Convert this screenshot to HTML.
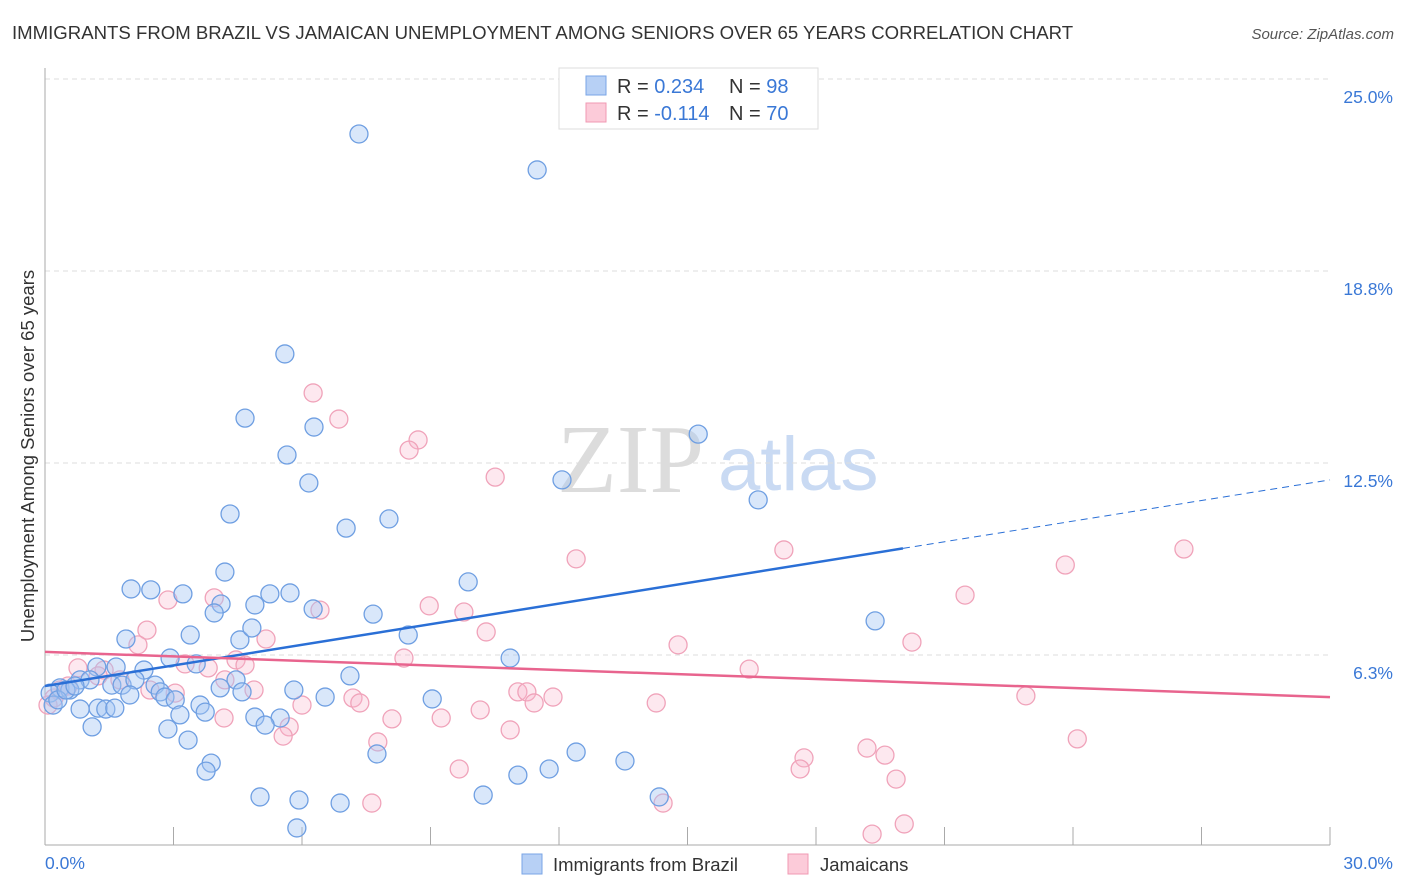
<!DOCTYPE html>
<html><head><meta charset="utf-8"><style>
body{margin:0;background:#fff;font-family:"Liberation Sans",sans-serif;}
#wrap{position:relative;width:1406px;height:892px;overflow:hidden;}
</style></head><body>
<div id="wrap">
<svg id="svg" width="1406" height="892" xmlns="http://www.w3.org/2000/svg">
<text x="12" y="39" font-size="18.6" fill="#333">IMMIGRANTS FROM BRAZIL VS JAMAICAN UNEMPLOYMENT AMONG SENIORS OVER 65 YEARS CORRELATION CHART</text>
<text x="1394" y="39" font-size="15" fill="#555" font-style="italic" text-anchor="end">Source: ZipAtlas.com</text>
<text transform="translate(34,456) rotate(-90)" font-size="18.5" fill="#333" text-anchor="middle">Unemployment Among Seniors over 65 years</text>
<g>
<text x="557" y="492" font-size="98" font-family="Liberation Serif,serif" fill="#dcdcdc">ZIP</text>
<text x="718" y="490" font-size="76" fill="#c9daf3">atlas</text>
</g>
<g id="grid"></g><g id="axes"></g><g id="pink"></g><g id="blue"></g><g id="trend"></g>
<g>
<rect x="559" y="68" width="259" height="61" fill="#fff" stroke="#ddd"/>
<rect x="586" y="76" width="20" height="19" fill="#b7d0f5" stroke="#7aa5e6"/>
<rect x="586" y="103" width="20" height="19" fill="#fccbd9" stroke="#f09ab3"/>
<text x="617" y="93" font-size="20" fill="#333">R = <tspan fill="#3a78d6">0.234</tspan><tspan x="729">N = </tspan><tspan fill="#3a78d6">98</tspan></text>
<text x="617" y="120" font-size="20" fill="#333">R = <tspan fill="#3a78d6">-0.114</tspan><tspan x="729">N = </tspan><tspan fill="#3a78d6">70</tspan></text>
</g>
<g>
<rect x="522" y="854" width="20" height="20" fill="#b7d0f5" stroke="#7aa5e6"/>
<text x="553" y="871" font-size="18.5" fill="#333">Immigrants from Brazil</text>
<rect x="788" y="854" width="20" height="20" fill="#fccbd9" stroke="#f09ab3"/>
<text x="820" y="871" font-size="18.5" fill="#333">Jamaicans</text>
</g>
</svg>
</div>
<script>
const yTicks=[6.25,12.5,18.75,25];
const yTickLabels=["6.3%","12.5%","18.8%","25.0%"];
const xTickLabels=["0.0%","30.0%"];
const blueX=[7.33,11.49,5.60,4.67,6.28,5.65,6.16,15.25,12.07,16.65,4.32,7.03,8.03,4.20,2.01,2.47,3.22,5.25,5.72,9.88,4.11,4.90,3.95,6.26,7.66,19.38,1.89,3.39,4.55,4.83,8.48,1.21,1.66,2.31,2.92,3.53,10.86,7.12,4.46,0.82,1.05,0.35,0.12,0.19,0.58,1.56,1.80,2.10,2.57,2.69,2.80,4.09,4.60,5.81,6.54,9.04,0.82,1.24,1.42,1.63,3.04,3.62,3.74,3.15,4.90,5.49,5.14,2.87,1.10,3.34,7.75,12.40,13.54,11.77,11.04,3.88,3.76,5.02,5.93,6.89,10.23,14.34,5.88,0.30,0.49,0.70,1.98];
const blueY=[23.21,22.04,16.05,13.96,13.67,12.76,11.85,13.44,11.95,11.30,10.84,10.38,10.68,8.95,8.40,8.37,8.24,8.24,8.27,8.63,7.91,7.88,7.62,7.75,7.58,7.36,6.77,6.90,6.74,7.13,6.90,5.86,5.86,5.76,6.15,5.96,6.15,5.57,5.44,5.44,5.44,5.18,5.01,4.62,5.11,5.27,5.27,5.44,5.27,5.05,4.88,5.18,5.05,5.11,4.88,4.82,4.49,4.52,4.49,4.52,4.79,4.62,4.39,4.30,4.23,4.20,3.97,3.84,3.91,3.48,3.03,3.09,2.80,2.54,2.34,2.73,2.47,1.63,1.53,1.43,1.69,1.63,0.62,4.79,5.11,5.24,4.95];
const pinkX=[6.26,6.86,8.71,8.50,10.51,17.25,12.40,26.59,23.82,21.48,2.87,3.95,6.42,8.97,9.78,2.38,5.16,10.30,14.78,20.24,2.17,4.46,4.67,8.38,16.44,0.77,1.38,3.27,3.81,1.75,1.24,4.20,4.88,3.04,0.21,0.07,7.19,7.35,11.04,11.25,11.42,11.86,14.27,22.90,6.00,8.10,9.25,4.18,10.16,10.86,7.77,5.70,5.56,24.10,19.19,19.61,17.72,17.63,9.67,19.87,7.63,14.43,20.06,19.31,0.35,0.54,2.45];
const pinkY=[14.78,13.93,13.25,12.92,12.04,9.67,9.38,9.70,9.18,8.20,8.04,8.11,7.71,7.85,7.65,7.06,6.77,7.00,6.58,6.67,6.58,6.09,5.92,6.15,5.79,5.83,5.76,5.96,5.83,5.44,5.57,5.44,5.11,5.01,4.85,4.62,4.85,4.69,5.05,5.05,4.69,4.88,4.69,4.92,4.62,4.17,4.20,4.20,4.46,3.81,3.42,3.91,3.61,3.52,3.22,2.99,2.90,2.54,2.54,2.21,1.43,1.43,0.75,0.42,5.11,5.24,5.11];
const blueTrend=[5.24,11.95]; const blueSolidEnd=20.03;
const pinkTrend=[6.35,4.88];
const NS="http://www.w3.org/2000/svg";
const X=v=>45+v*1285/30, Y=v=>847-v*30.72;
function mk(tag,parent,attrs){const e=document.createElementNS(NS,tag);for(const k in attrs)e.setAttribute(k,attrs[k]);document.getElementById(parent).appendChild(e);return e;}
yTicks.forEach((t,i)=>{
 const l=mk('line','grid',{x1:45,x2:1330,y1:Y(t),y2:Y(t),stroke:'#ddd','stroke-dasharray':'5,4'});
 
 
 const tx=mk('text','grid',{x:1393,y:Y(t)+24,'font-size':17.5,fill:'#3a78d6','text-anchor':'end'});
 tx.textContent=yTickLabels[i];
 
 
});
mk('line','axes',{x1:45,x2:45,y1:68,y2:845,stroke:'#aaa'});
mk('line','axes',{x1:45,x2:1330,y1:845,y2:845,stroke:'#aaa'});
for(let i=1;i<=10;i++){const t=mk('line','axes',{x1:X(i*3),x2:X(i*3),y1:827,y2:845,stroke:'#aaa'});
 
 }
const xl0=mk('text','axes',{x:45,y:869,'font-size':17.5,fill:'#3a78d6'});xl0.textContent=xTickLabels[0];


const xl1=mk('text','axes',{x:1393,y:869,'font-size':17.5,fill:'#3a78d6','text-anchor':'end'});xl1.textContent=xTickLabels[1];


pinkX.forEach((x,i)=>{const c=mk('circle','pink',{cx:X(x),cy:Y(pinkY[i]),r:9,fill:'rgba(248,182,204,0.32)',stroke:'#f0a3ba','stroke-width':1.3});
 
 });
blueX.forEach((x,i)=>{const c=mk('circle','blue',{cx:X(x),cy:Y(blueY[i]),r:9,fill:'rgba(164,198,242,0.42)',stroke:'#6f9fe2','stroke-width':1.3});
 
 });
const bAt=v=>blueTrend[0]+(blueTrend[1]-blueTrend[0])*v/30;
const b1=mk('line','trend',{x1:X(0),y1:Y(blueTrend[0]),x2:X(blueSolidEnd),y2:Y(bAt(blueSolidEnd)),stroke:'#2a6fd6','stroke-width':2.5});


const b2=mk('line','trend',{x1:X(blueSolidEnd),y1:Y(bAt(blueSolidEnd)),x2:X(30),y2:Y(blueTrend[1]),stroke:'#2a6fd6','stroke-width':1,'stroke-dasharray':'7,5'});


const p1=mk('line','trend',{x1:X(0),y1:Y(pinkTrend[0]),x2:X(30),y2:Y(pinkTrend[1]),stroke:'#e8648e','stroke-width':2.5});


</script>
</body></html>
